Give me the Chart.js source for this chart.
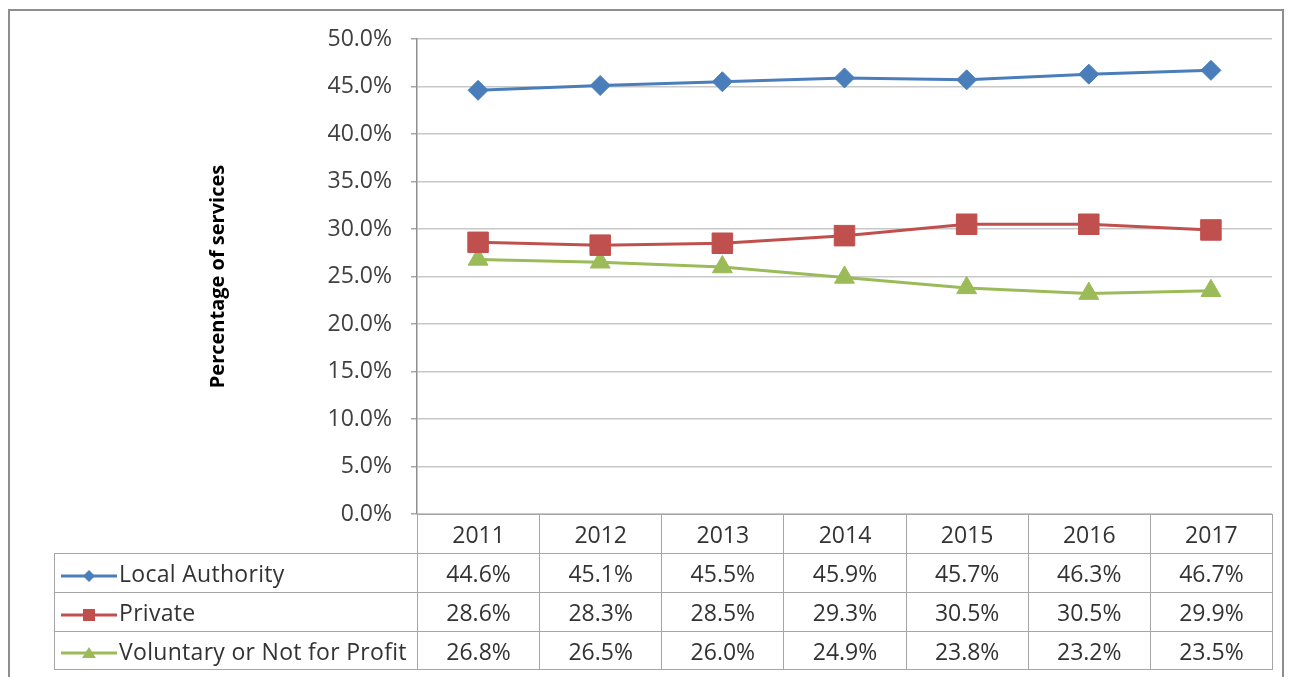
<!DOCTYPE html>
<html>
<head>
<meta charset="utf-8">
<script src="https://cdn.jsdelivr.net/npm/chart.js@4.4.0/dist/chart.umd.min.js"></script>
<style>
  html, body { margin: 0; padding: 0; background: #fff; }
  #wrap { position: relative; width: 1289px; height: 677px; overflow: hidden; font-family: "Open Sans", "Noto Sans", sans-serif; }
  #frame { position: absolute; left: 8px; top: 9px; width: 1276px; height: 700px; border: 2px solid #8e8e8e; border-bottom: none; box-sizing: border-box; }
  #chart { position: absolute; left: 0; top: 0; }
  #dataTable { position: absolute; border-collapse: collapse; table-layout: fixed; color: #333; font-size: 23px; }
  #dataTable td { border: 1px solid #a6a6a6; text-align: center; padding: 0; white-space: nowrap; }
  #dataTable td.name { text-align: left; padding-left: 6px; letter-spacing: 0.3px; }
  #dataTable td.blank { border-top: none; border-left: none; }
  #dataTable svg { vertical-align: middle; margin-right: 2px; }
</style>
</head>
<body>
<div id="wrap">
  <div id="frame"></div>
  <canvas id="chart" width="1289" height="677"></canvas>
  <table id="dataTable"></table>
</div>
<script>
const years = ['2011', '2012', '2013', '2014', '2015', '2016', '2017'];
const localAuthority = [44.6, 45.1, 45.5, 45.9, 45.7, 46.3, 46.7];
const privateSector = [28.6, 28.3, 28.5, 29.3, 30.5, 30.5, 29.9];
const voluntary = [26.8, 26.5, 26.0, 24.9, 23.8, 23.2, 23.5];

const series = [
  { label: 'Local Authority', data: localAuthority, color: '#4A7EBB', style: 'rectRot', radius: 10 },
  { label: 'Private', data: privateSector, color: '#C0504D', style: 'rect', radius: 14.5 },
  { label: 'Voluntary or Not for Profit', data: voluntary, color: '#9BBB59', style: 'triangle', radius: 11.5 },
];

const TABLE_LEFT = 54;
const ROW_H = [39, 39, 39, 38];
const FONT = '"Open Sans", "Noto Sans", sans-serif';

const ctx = document.getElementById('chart').getContext('2d');

const chart = new Chart(ctx, {
  type: 'line',
  data: {
    labels: years,
    datasets: series.map(s => ({
      label: s.label,
      data: s.data,
      borderColor: s.color,
      backgroundColor: s.color,
      borderWidth: 3,
      pointStyle: s.style,
      pointRadius: s.radius,
      pointBorderWidth: 1,
      pointBackgroundColor: s.color,
      pointBorderColor: s.color,
      tension: 0,
    }))
  },
  options: {
    responsive: false,
    animation: false,
    layout: { padding: { left: 203, top: 39, right: 17, bottom: 163 } },
    plugins: {
      legend: { display: false },
      tooltip: { enabled: false },
    },
    scales: {
      x: {
        offset: true,
        grid: { display: false },
        ticks: { display: false },
        border: { display: true, color: '#a6a6a6', width: 1 },
        afterFit: (scale) => { scale.height = 0; },
      },
      y: {
        min: 0,
        max: 50,
        grid: { color: '#c8c8c8', lineWidth: 1.5, tickLength: 6, tickColor: '#a6a6a6' },
        border: { display: true, color: '#8e8e8e', width: 1.5 },
        ticks: {
          stepSize: 5,
          padding: 19,
          color: '#404040',
          font: { family: FONT, size: 23 },
          callback: (val) => val.toFixed(1) + '%',
        },
        title: {
          display: true,
          text: 'Percentage of services',
          color: '#000',
          padding: { top: 3, bottom: 0 },
          font: { family: FONT, size: 20, weight: 'bold' },
        },
        afterFit: (scale) => { scale.width = 214; },
      }
    }
  }
});

// legend icon for the data table
function iconSvg(s) {
  let mark = '';
  const cx = 28, cy = 10;
  if (s.style === 'rectRot') {
    mark = `<polygon points="${cx},${cy - 6} ${cx + 6},${cy} ${cx},${cy + 6} ${cx - 6},${cy}" fill="${s.color}"/>`;
  } else if (s.style === 'rect') {
    mark = `<rect x="${cx - 6}" y="${cy - 6}" width="12" height="12" fill="${s.color}"/>`;
  } else {
    mark = `<polygon points="${cx},${cy - 6} ${cx + 7},${cy + 5} ${cx - 7},${cy + 5}" fill="${s.color}"/>`;
  }
  return `<svg width="56" height="20"><line x1="0" y1="${cy}" x2="56" y2="${cy}" stroke="${s.color}" stroke-width="3"/>${mark}</svg>`;
}

// data table aligned to the chart's category columns
const area = chart.chartArea;
const colW = (area.right - area.left) / years.length;
const table = document.getElementById('dataTable');
table.style.left = TABLE_LEFT + 'px';
table.style.top = area.bottom + 'px';
table.style.width = (area.right - TABLE_LEFT) + 'px';

let html = `<colgroup><col style="width:${area.left - TABLE_LEFT}px">`;
years.forEach(() => { html += `<col style="width:${colW}px">`; });
html += '</colgroup>';
html += `<tr style="height:${ROW_H[0]}px"><td class="blank"></td>`;
years.forEach(y => { html += `<td>${y}</td>`; });
html += '</tr>';
series.forEach((s, i) => {
  html += `<tr style="height:${ROW_H[i + 1]}px"><td class="name">${iconSvg(s)}${s.label}</td>`;
  s.data.forEach(v => { html += `<td>${v.toFixed(1)}%</td>`; });
  html += '</tr>';
});
table.innerHTML = html;
</script>
</body>
</html>
